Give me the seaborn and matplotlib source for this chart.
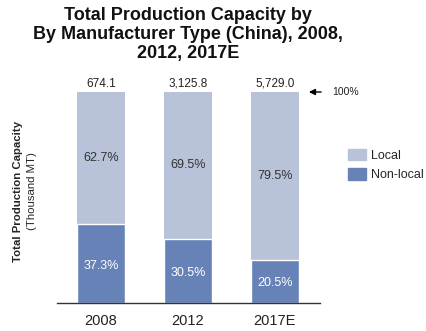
import matplotlib
matplotlib.use("Agg")
import matplotlib.pyplot as plt
from matplotlib.patches import Patch
import seaborn as sns
import pandas as pd

# Production capacity by manufacturer type
years = ["2008", "2012", "2017E"]
totals = ["674.1", "3,125.8", "5,729.0"]
local_pct = [62.7, 69.5, 79.5]
nonlocal_pct = [37.3, 30.5, 20.5]

local_color = "#b8c2d9"
nonlocal_color = "#6682b6"

sns.set_style("white")
plt.rcParams["font.family"] = ["Liberation Sans", "DejaVu Sans"]

df = pd.DataFrame({
    "year": years,
    "local": local_pct,
    "nonlocal": nonlocal_pct,
})
df["total"] = df["local"] + df["nonlocal"]

fig = plt.figure(figsize=(4.26, 3.31), dpi=100)
ax = fig.add_axes([57 / 426, 28 / 331, 263 / 426, 211 / 331])

width = 0.55
sns.barplot(data=df, x="year", y="total", color=local_color, width=width,
            saturation=1, ax=ax, linewidth=0)
sns.barplot(data=df, x="year", y="nonlocal", color=nonlocal_color, width=width,
            saturation=1, ax=ax, edgecolor="white", linewidth=1.0)

ax.set_xlim(-0.506, 2.52)
ax.set_ylim(0, 100)

for i, (loc, nl, tot) in enumerate(zip(local_pct, nonlocal_pct, totals)):
    ax.text(i, nl / 2 - 1, f"{nl:.1f}%", ha="center", va="center",
            color="white", fontsize=9)
    ax.text(i, nl + loc / 2, f"{loc:.1f}%", ha="center", va="center",
            color="#333333", fontsize=9)
    ax.text(i, 103.8, tot, ha="center", va="center", color="#222222",
            fontsize=8.5)

ax.annotate("", xy=(2.36, 100), xytext=(2.565, 100),
            arrowprops=dict(arrowstyle="-|>", color="black", lw=1,
                            mutation_scale=9), annotation_clip=False)
ax.text(2.655, 100, "100%", ha="left", va="center", fontsize=7.5,
        color="#222222")

sns.despine(ax=ax, left=True)
ax.spines["bottom"].set_color("#333333")
ax.spines["bottom"].set_linewidth(1)
ax.set_yticks([])
ax.set_xlabel("")
ax.set_ylabel("")
ax.tick_params(axis="x", length=0, pad=8, labelsize=10.5)
for lbl in ax.get_xticklabels():
    lbl.set_color("#222222")

fig.text(188 / 426, 0.978,
         "Total Production Capacity by\nBy Manufacturer Type (China), 2008,\n2012, 2017E",
         ha="center", va="top", fontsize=13, fontweight="bold",
         linespacing=1.13, color="#111111")

fig.text(18 / 426, 140 / 331, "Total Production Capacity", rotation=90,
         ha="center", va="center", fontsize=8.2, fontweight="bold")
fig.text(32 / 426, 140 / 331, "(Thousand MT)", rotation=90,
         ha="center", va="center", fontsize=8.2)

handles = [Patch(color=local_color, label="Local"),
           Patch(color=nonlocal_color, label="Non-local")]
fig.legend(handles=handles, loc="center left",
           bbox_to_anchor=(348 / 426, 166 / 331), frameon=False,
           fontsize=9, handlelength=1.4, handleheight=1.05,
           handletextpad=0.4, labelspacing=0.55, borderpad=0,
           borderaxespad=0)

fig.savefig("out.png", dpi=100)
